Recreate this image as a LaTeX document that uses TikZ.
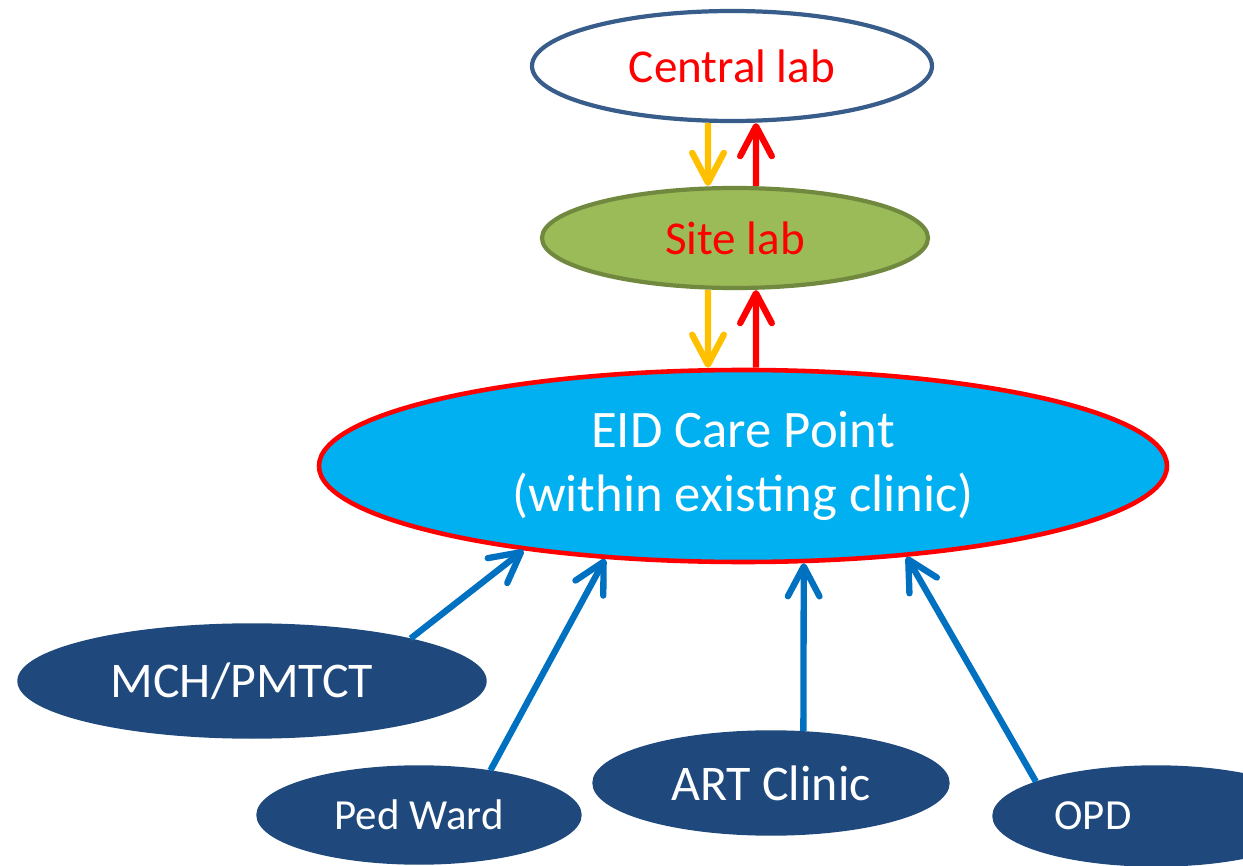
\documentclass[tikz,border=0pt]{standalone}
\usepackage{fontspec}
\setmainfont{Carlito}
\usetikzlibrary{shapes.geometric,arrows.meta}
\definecolor{labedge}{HTML}{385D8A}
\definecolor{sitefill}{HTML}{9BBB59}
\definecolor{siteedge}{HTML}{71893F}
\definecolor{carefill}{HTML}{00B0F0}
\definecolor{clinicfill}{HTML}{1F497D}
\definecolor{feedblue}{HTML}{0070C0}
\definecolor{sampleyellow}{HTML}{FFC000}

\tikzset{
  lab/.style={ellipse, inner sep=0pt, line width=1.2pt, text=red,
    font=\fontsize{13.4}{16}\selectfont},
  clinic/.style={ellipse, inner sep=0pt, fill=clinicfill, draw=clinicfill,
    text=white},
  tipbarb/.style={-{Straight Barb[length=8.5pt,width=9pt,round]}},
  sample/.style={tipbarb, draw=sampleyellow, line width=1.8pt},
  result/.style={tipbarb, draw=red, line width=1.8pt},
  feed/.style={tipbarb, draw=feedblue, line width=1.8pt}
}

\begin{document}
\begin{tikzpicture}
  \useasboundingbox (0,0) rectangle (12.43,8.65);

  % laboratories
  \node[lab, draw=labedge, fill=white, minimum width=4cm, minimum height=1.1cm]
    (central) at (7.32,7.99) {Central lab};
  \node[lab, draw=siteedge, fill=sitefill, minimum width=3.86cm, minimum height=1cm]
    (site) at (7.35,6.27) {Site lab};

  % care point
  \node[ellipse, inner sep=0pt, draw=red, line width=1.3pt, fill=carefill,
    minimum width=8.48cm, minimum height=1.92cm, text=white, align=center,
    font=\fontsize{15}{18}\selectfont]
    (eid) at (7.43,3.99) {EID Care Point\\(within existing clinic)};

  % referring clinics
  \node[clinic, minimum width=4.68cm, minimum height=1.14cm,
    font=\fontsize{14.2}{17}\selectfont] (mch) at (2.52,1.84) {\kern-0.2cm MCH/PMTCT};
  \node[clinic, minimum width=3.24cm, minimum height=0.98cm,
    font=\fontsize{12.2}{15}\selectfont] (ped) at (4.19,0.50) {Ped Ward};
  \node[clinic, minimum width=3.56cm, minimum height=1.04cm,
    font=\fontsize{14.2}{17}\selectfont] (art) at (7.71,0.82) {ART Clinic};
  \node[clinic, minimum width=3.26cm, minimum height=1cm] (opd) at (11.56,0.49) {};
  \node[text=white, font=\fontsize{12.2}{15}\selectfont]
    (opdtext) at ([xshift=-0.63cm]opd.center) {OPD};

  % samples down, results up
  \draw[sample] ([xshift=-0.24cm]central.south) -- ([xshift=-0.27cm]site.north);
  \draw[result] ([xshift=0.21cm]site.north) -- ([xshift=0.24cm]central.south);
  \draw[sample] ([xshift=-0.27cm]site.south) -- ([xshift=-0.35cm]eid.north);
  \draw[result] ([xshift=0.13cm]eid.north) -- ([xshift=0.21cm]site.south);

  \foreach \from/\out/\in in {mch/15/201, ped/32/214, art/58/-58, opd/164/-29}
    \draw[feed] (\from.\out) -- (eid.\in);
\end{tikzpicture}
\end{document}
